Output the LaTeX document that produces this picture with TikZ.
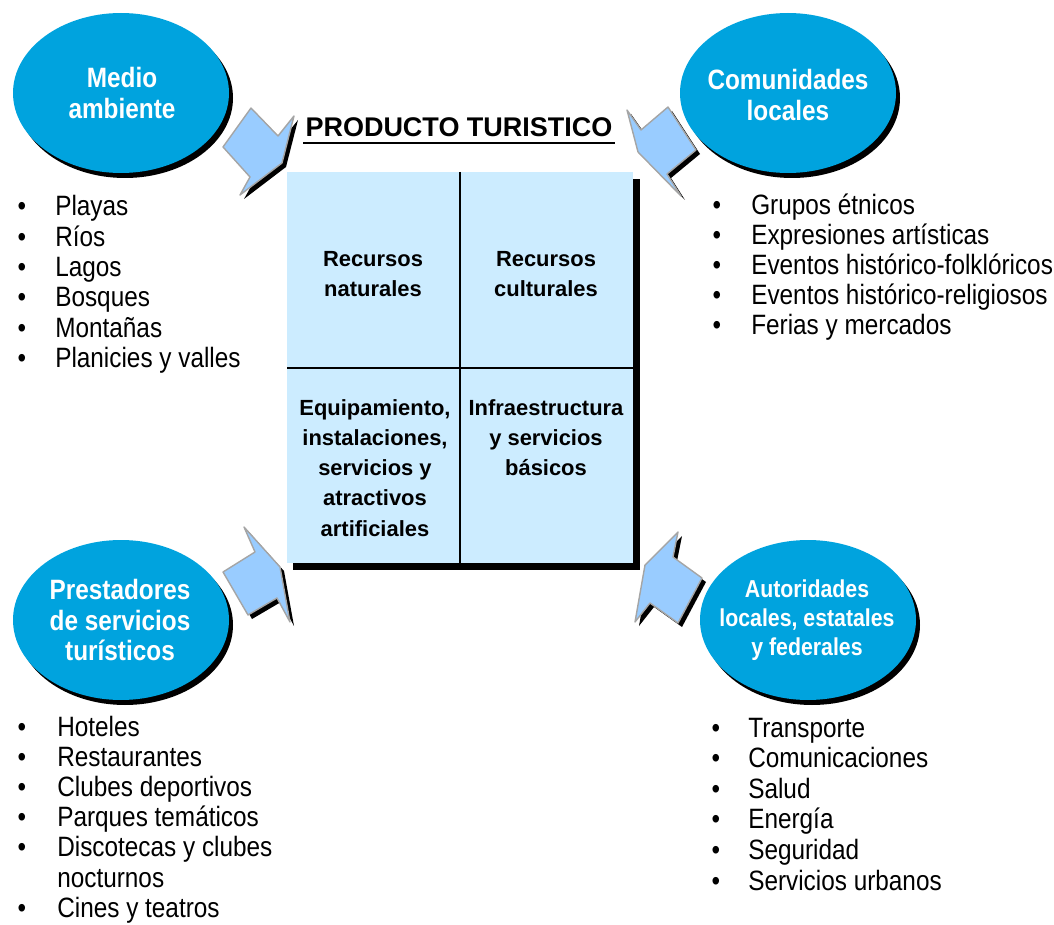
\documentclass[tikz,border=0pt]{standalone}
\usepackage{fontspec}
\setmainfont{Liberation Sans}
\newfontfamily\narrowsans{Liberation Sans}[FakeStretch=0.87]
\usetikzlibrary{calc}

\definecolor{bubbleblue}{RGB}{0,163,222}
\definecolor{boxblue}{RGB}{204,236,255}
\definecolor{arrowblue}{RGB}{153,204,255}
\definecolor{arrowedge}{RGB}{165,165,165}

\tikzset{
  bubble/.style={fill=bubbleblue},
  bubtext/.style={text=white, align=center, inner sep=0pt,
    font=\narrowsans\bfseries\fontsize{19.9}{22}\selectfont},
  celltext/.style={align=center, inner sep=0pt,
    font=\bfseries\fontsize{15.6}{21.5}\selectfont},
  item/.style={anchor=base west, inner sep=0pt,
    font=\narrowsans\fontsize{19.9}{21.5}\selectfont},
  dot/.style={anchor=base, inner sep=0pt,
    font=\narrowsans\fontsize{19.9}{21.5}\selectfont},
  blockarrow/.style={fill=arrowblue, draw=arrowedge, line width=1pt, line join=round,
    preaction={fill=black, transform canvas={shift={(4,4)}}}},
}

\begin{document}
\begin{tikzpicture}[x=0.025cm, y=-0.025cm]

  \useasboundingbox (0,0) rectangle (1054,925);

  % ----------------------
  % Frecce (sotto le ellissi)
  % ----------------------
  \filldraw[blockarrow] (251,108) -- (278,136) -- (294,116) -- (282,163)
    -- (240,195) -- (250,177) -- (223,147) -- cycle;                   % alto sx
  \filldraw[blockarrow] (627,110) -- (641,130) -- (668,107) -- (696,150)
    -- (667,174) -- (681,196) -- (638,152) -- cycle;                   % alto dx
  \filldraw[blockarrow] (244,527) -- (280,567) -- (290,622) -- (277,598)
    -- (248,615) -- (223,572) -- (255,552) -- cycle;                   % basso sx
  \filldraw[blockarrow] (678,532) -- (673,557) -- (702,578) -- (678,623)
    -- (650,603) -- (635,622) -- (645,565) -- cycle;                   % basso dx

  % ----------------------
  % Ellissi con ombra
  % ----------------------
  \foreach \cx/\cy in {121/93, 788/93, 121/620, 808/620}{
    \fill[black] (\cx+4,\cy+5) ellipse (108 and 80);
    \fill[bubble] (\cx,\cy) ellipse (108 and 80);
  }
  \node[bubtext] (medio) at (122,93) {Medio\\ambiente};
  \node[bubtext] (comun) at (788,95) {Comunidades\\locales};
  \node[bubtext] (prest) at (120,620) {Prestadores\\de servicios\\turísticos};
  \node[bubtext, font=\narrowsans\bfseries\fontsize{17.4}{20.6}\selectfont]
    (autor) at (807,620) {Autoridades\\locales, estatales\\y federales};

  % ----------------------
  % Titolo
  % ----------------------
  \node[anchor=base, inner sep=0pt, font=\bfseries\fontsize{19.2}{22}\selectfont]
    (titulo) at (459,137) {PRODUCTO TURISTICO};
  \draw[line width=1.4pt] ($(titulo.base west)+(-2,6)$) -- ($(titulo.base east)+(2,6)$);

  % ----------------------
  % Riquadro centrale
  % ----------------------
  \fill[black] (293,179) rectangle (640,570);
  \fill[boxblue] (287,172) rectangle (633,563);
  \draw[line width=1pt] (460,172) -- (460,563);
  \draw[line width=1pt] (287,368) -- (633,368);

  \node[celltext] (natural) at (373,274) {Recursos\\naturales};
  \node[celltext] (cultural) at (546,274) {Recursos\\culturales};
  \node[celltext, anchor=north] (equipo) at (375,399)
    {Equipamiento,\\instalaciones,\\servicios y\\atractivos\\artificiales};
  \node[celltext, anchor=north] (infra) at (546,399) {Infraestructura\\y servicios\\básicos};

  % ----------------------
  % Elenchi
  % ----------------------
  \foreach \lab [count=\k from 0] in {Playas, Ríos, Lagos, Bosques, Montañas, Planicies y valles}{
    \node[dot] (mad\k) at (22,{216+30.3*\k}) {•};
    \node[item] (mai\k) at (55,{216+30.3*\k}) {\lab};
  }
  \foreach \lab [count=\k from 0] in {Grupos étnicos, Expresiones artísticas,
      Eventos histórico-folklóricos, Eventos histórico-religiosos, Ferias y mercados}{
    \node[dot] (cld\k) at (717,{215+30*\k}) {•};
    \node[item] (cli\k) at (751,{215+30*\k}) {\lab};
  }
  \foreach \lab/\k in {Hoteles/0, Restaurantes/1, Clubes deportivos/2, Parques temáticos/3,
      Discotecas y clubes/4, Cines y teatros/6}{
    \node[dot] (psd\k) at (22,{736+30.2*\k}) {•};
    \node[item] (psi\k) at (57,{736+30.2*\k}) {\lab};
  }
  \node[item] (psi5) at (57,{736+30.2*5}) {nocturnos};
  \foreach \lab [count=\k from 0] in {Transporte, Comunicaciones, Salud, Energía,
      Seguridad, Servicios urbanos}{
    \node[dot] (ald\k) at (716,{737+30.6*\k}) {•};
    \node[item] (ali\k) at (748,{737+30.6*\k}) {\lab};
  }

\end{tikzpicture}
\end{document}
